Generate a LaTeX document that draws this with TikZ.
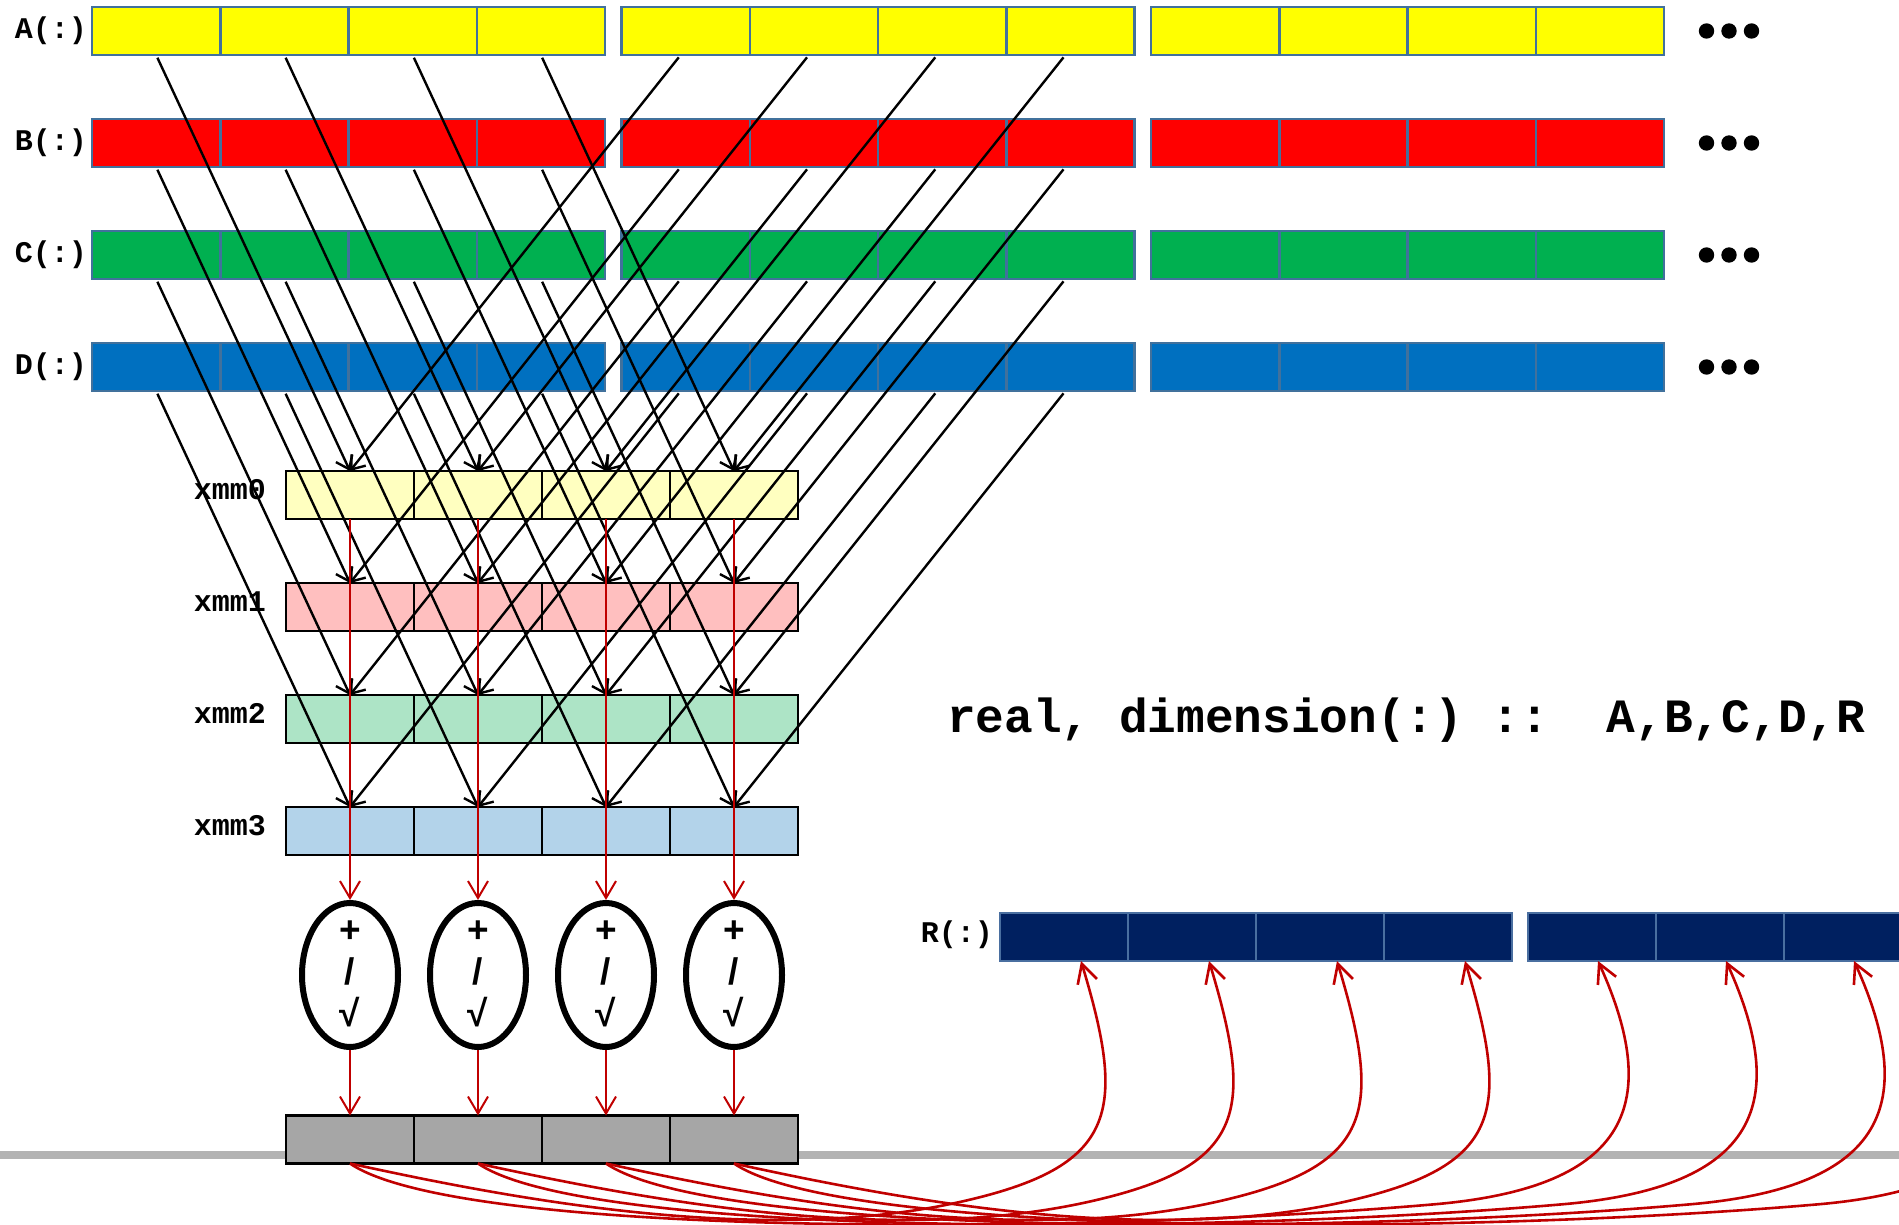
\documentclass[tikz,border=0pt]{standalone}
\usepackage{fontspec}
\setmainfont{Liberation Sans}
\setmonofont{Liberation Mono}
\usetikzlibrary{arrows.meta,shapes.geometric,calc}

\definecolor{arrA}{HTML}{FFFF00}
\definecolor{arrB}{HTML}{FF0000}
\definecolor{arrC}{HTML}{00B050}
\definecolor{arrD}{HTML}{0070C0}
\definecolor{arredge}{HTML}{41719C}
\definecolor{regA}{HTML}{FFFFC0}
\definecolor{regB}{HTML}{FFBFBF}
\definecolor{regC}{HTML}{ADE4C6}
\definecolor{regD}{HTML}{B3D3EA}
\definecolor{resfill}{HTML}{002060}
\definecolor{resedge}{HTML}{4A6FA0}
\definecolor{tmpfill}{HTML}{A6A6A6}
\definecolor{flowred}{HTML}{C00000}
\definecolor{rulegray}{HTML}{B3B3B3}

\begin{document}
\begin{tikzpicture}[x=1pt,y=-1pt,
  cell/.style={minimum width=128.25pt, minimum height=48pt, inner sep=0pt, outer sep=0pt},
  arrcell/.style={cell, draw=arredge, line width=2.5pt},
  regcell/.style={cell, minimum width=128pt, draw=black, line width=2.8pt},
  rescell/.style={cell, minimum width=128pt, draw=resedge, line width=2.5pt, fill=resfill},
  lbl/.style={font=\fontsize{30}{36}\selectfont\ttfamily\bfseries, inner sep=0pt},
  dotmark/.style={circle, fill=black, minimum size=15.4pt, inner sep=0pt},
  opnode/.style={ellipse, draw=black, line width=6pt, minimum width=96pt, minimum height=144pt, inner sep=0pt},
  optext/.style={font=\fontsize{37}{42}\selectfont\bfseries, align=center, inner sep=0pt},
  load/.style={line width=2.4pt, -{Straight Barb[length=12pt,width=18pt]}, shorten <=3pt},
  flow/.style={draw=flowred, line width=2pt, -{Straight Barb[length=17pt,width=20pt]}},
  store/.style={draw=flowred, line width=2.6pt, -{Straight Barb[length=19pt,width=20pt]}},
]
\useasboundingbox (0,0) rectangle (1899,1225);
\clip (0,0) rectangle (1899,1225);

% horizontal rule behind the result register
\draw[rulegray, line width=7.7pt] (0,1155) -- (1899,1155);

% source arrays A, B, C, D in memory
\foreach \k/\nm/\col in {0/A/arrA,1/B/arrB,2/C/arrC,3/D/arrD}{
  \node[lbl, anchor=east] (lab\nm) at (87, 31+112*\k) {\nm(:)};
  \foreach \b in {0,1,2}{
    \foreach \j in {0,...,3}{
      \node[arrcell, fill=\col] (\nm-\b-\j) at (92+529.5*\b+128.25*\j+64.125, 31+112*\k) {};
    }
  }
  \foreach \d in {0,1,2}{
    \node[dotmark] (dot\nm\d) at (1706.5+22.5*\d, 31+112*\k) {};
  }
}

% SIMD registers
\foreach \k/\col in {0/regA,1/regB,2/regC,3/regD}{
  \node[lbl, anchor=base east] (xl\k) at (266, 499+112*\k) {xmm\k};
  \foreach \j in {0,...,3}{
    \node[regcell, fill=\col] (x\k-\j) at (350+128*\j, 495+112*\k) {};
  }
}

% arithmetic units
\foreach \j in {0,...,3}{
  \node[opnode] (op\j) at (350+128*\j, 975) {};
  \node[optext] (ops\j) at ($(op\j.center)+(0,-1)$) {+\\/\\√};
}

% result register
\foreach \j in {0,...,3}{
  \node[regcell, fill=tmpfill] (g\j) at (350+128*\j, 1139.5) {};
}

% result array R
\node[lbl, anchor=east] (labR) at (993, 935) {R(:)};
\foreach \b in {0,1}{
  \foreach \j in {0,...,3}{
    \node[rescell] (R-\b-\j) at (1000+528*\b+128*\j+64, 937) {};
  }
}
\foreach \j in {0,...,3}{
  \coordinate (tipA\j) at ($(R-0-\j.south)+(17,0)$);
  \coordinate (tipB\j) at ($(R-1-\j.south)+(6,0)$);
}

% declaration
\node[font=\fontsize{47.8}{56}\selectfont\ttfamily\bfseries\frenchspacing, anchor=base, inner sep=0pt]
  (decl) at (1406, 732) {real, dimension(:) ::~~A,B,C,D,R};

% loads from memory into the registers
\foreach \k/\nm in {0/A,1/B,2/C,3/D}{
  \foreach \j in {0,...,3}{
    \draw[load] (\nm-0-\j.south) -- (x\k-\j.north);
    \draw[load] ([xshift=-5pt]\nm-1-\j.south) -- (x\k-\j.north);
  }
}

% data flow through the arithmetic units
\foreach \j in {0,...,3}{
  \draw[flow] (x0-\j.south) -- (op\j.north);
  \draw[flow] (op\j.south) -- (g\j.north);
}

% stores back to R
\foreach \j in {0,...,3}{
  \draw[store] (g\j.south) .. controls +(165,36) and +(-200,45) .. ($(g\j.south)+(612,38)$)
                          .. controls +(155,-35) and +(46,152) .. (tipA\j);
  \draw[store] (g\j.south) .. controls +(110,75) and +(-349,30) .. ($(g\j.south)+(1082,41)$)
                          .. controls +(190,-16) and +(68,150) .. (tipB\j);
}
\end{tikzpicture}
\end{document}
